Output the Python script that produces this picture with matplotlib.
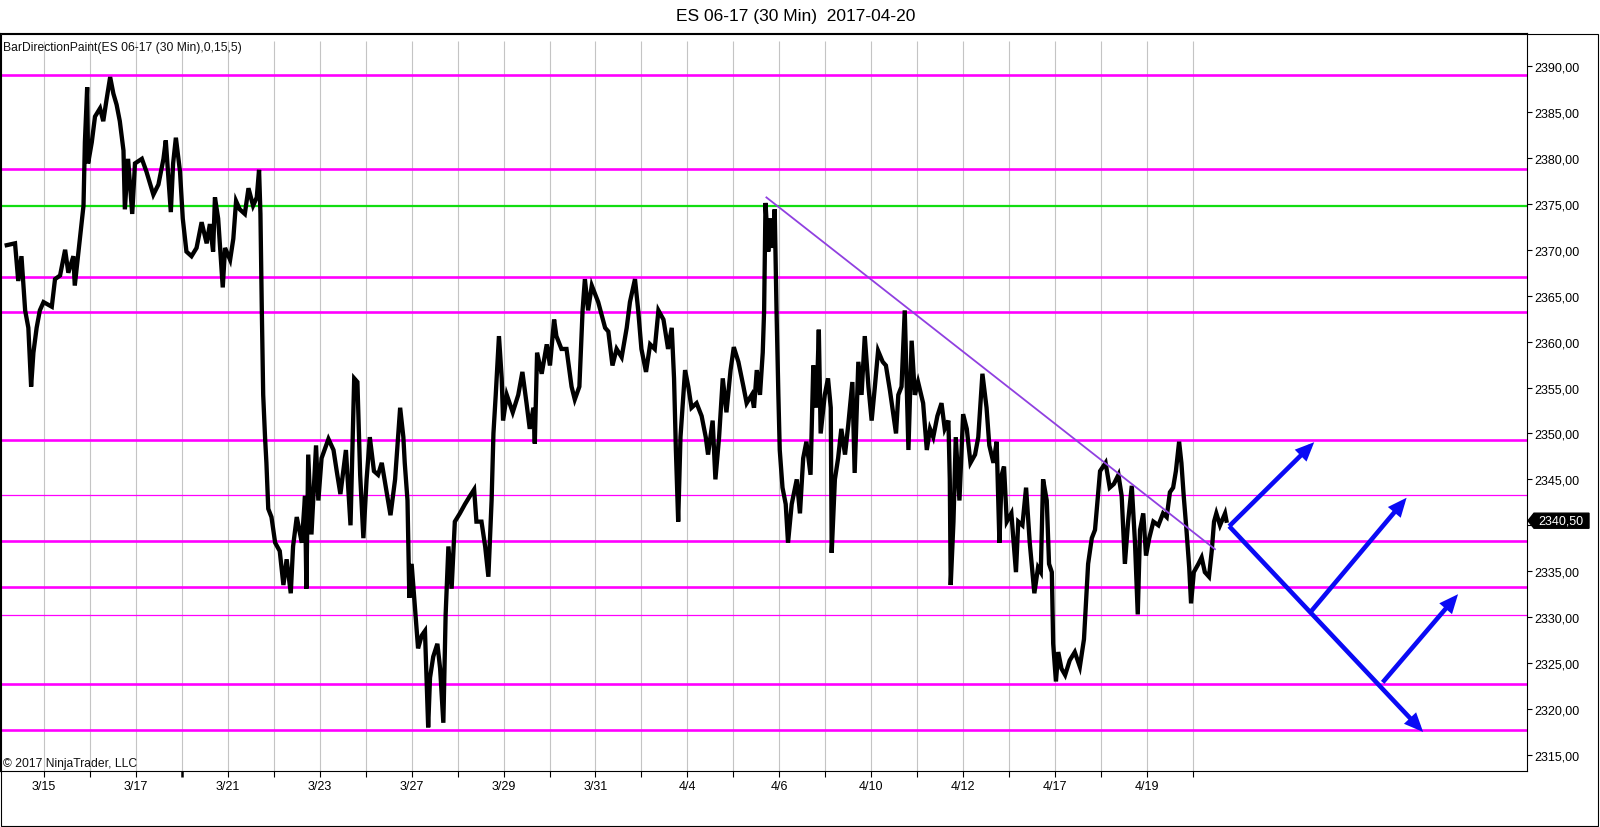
"""
ES 06-17 (30 Min) chart with support / resistance levels,
a falling trend line and scenario arrows.
"""
import numpy as np
import matplotlib
matplotlib.use("Agg")
import matplotlib.pyplot as plt
import matplotlib.ticker as mticker
import matplotlib.transforms as mtransforms
from matplotlib.patches import FancyArrowPatch, Rectangle, Polygon

plt.rcParams['font.family'] = ['Liberation Sans', 'DejaVu Sans']

# =========================================================
# DATA
# =========================================================
TITLE = "ES 06-17 (30 Min)  2017-04-20"
INDICATOR = "BarDirectionPaint(ES 06-17 (30 Min),0,15,5)"
COPYRIGHT = "\u00a9 2017 NinjaTrader, LLC"

session_dates = ["3/15", "3/16", "3/17", "3/20", "3/21", "3/22", "3/23",
                 "3/24", "3/27", "3/28", "3/29", "3/30", "3/31", "4/3",
                 "4/4", "4/5", "4/6", "4/7", "4/10", "4/11", "4/12",
                 "4/13", "4/17", "4/18", "4/19", "4/20"]

# price path (session index, price)
bar_day = [
    -0.81, -0.63, -0.56, -0.49, -0.41, -0.34, -0.28, -0.23, -0.16, -0.09,
    -0.01, 0.17, 0.24, 0.35, 0.46, 0.53, 0.64, 0.67, 0.78, 0.86,
    0.89, 0.94, 0.96, 1.04, 1.11, 1.22, 1.29, 1.36, 1.44, 1.51,
    1.58, 1.65, 1.73, 1.76, 1.83, 1.92, 1.98, 2.13, 2.23, 2.38,
    2.49, 2.60, 2.65, 2.71, 2.76, 2.81, 2.87, 2.96, 3.02, 3.10,
    3.21, 3.32, 3.43, 3.54, 3.61, 3.68, 3.72, 3.79, 3.89, 3.94,
    4.05, 4.12, 4.18, 4.26, 4.37, 4.45, 4.55, 4.63, 4.68, 4.71,
    4.74, 4.77, 4.81, 4.84, 4.88, 4.95, 5.03, 5.13, 5.21, 5.28,
    5.37, 5.42, 5.50, 5.61, 5.68,
    5.71, 5.75, 5.82, 5.92, 5.97, 6.04, 6.19, 6.30, 6.37, 6.45,
    6.57, 6.67, 6.75, 6.82, 6.88, 6.95, 7.02, 7.09, 7.18, 7.27,
    7.35, 7.44, 7.54, 7.64, 7.75, 7.82, 7.85, 7.91, 7.95, 8.00,
    8.07, 8.14, 8.22, 8.29, 8.36, 8.40, 8.47, 8.56, 8.62, 8.69,
    8.74, 8.80, 8.87, 8.94, 9.05, 9.16, 9.27, 9.36, 9.41, 9.52,
    9.60, 9.67, 9.74, 9.78, 9.83, 9.90, 9.96, 9.99, 10.07, 10.20,
    10.32, 10.41, 10.50, 10.57, 10.65, 10.68, 10.73, 10.83, 10.94, 11.01,
    11.10, 11.15, 11.26, 11.37, 11.48, 11.55, 11.65, 11.72, 11.77, 11.84,
    11.92, 11.99, 12.06,
    12.21, 12.28, 12.37, 12.46, 12.57, 12.68, 12.75, 12.86, 12.93, 13.00,
    13.10, 13.19, 13.29, 13.37, 13.48, 13.58, 13.66, 13.71, 13.75, 13.80,
    13.85, 13.95, 14.02, 14.09, 14.20, 14.31, 14.40, 14.45, 14.55, 14.61,
    14.69, 14.77, 14.85, 14.94, 15.01, 15.11, 15.22, 15.29, 15.40, 15.45,
    15.51, 15.58, 15.64, 15.67, 15.70, 15.76, 15.81, 15.85, 15.90, 15.94,
    15.98, 16.01, 16.07, 16.14, 16.19, 16.27, 16.38, 16.45, 16.52, 16.59,
    16.68, 16.74, 16.81, 16.86, 16.90, 16.99, 17.06, 17.12, 17.14, 17.21,
    17.28, 17.35, 17.43, 17.50, 17.59, 17.64, 17.72, 17.79, 17.86, 17.94,
    18.01, 18.08, 18.15, 18.25, 18.32, 18.41, 18.54, 18.59,
    18.66, 18.73, 18.81, 18.88, 18.95, 19.02, 19.13, 19.21, 19.28, 19.35,
    19.44, 19.53, 19.60, 19.68, 19.71, 19.73, 19.79, 19.84, 19.92, 20.00,
    20.08, 20.16, 20.26, 20.33, 20.42, 20.51, 20.57, 20.66, 20.73, 20.79,
    20.84, 20.89, 20.95, 21.05, 21.15, 21.20, 21.29, 21.37, 21.45, 21.55,
    21.63, 21.69, 21.74, 21.82, 21.87, 21.93, 21.96, 22.02, 22.07, 22.14,
    22.22, 22.32, 22.43, 22.54, 22.63, 22.67, 22.72, 22.80, 22.87, 22.94,
    22.98, 23.10, 23.19, 23.28, 23.38, 23.45, 23.52, 23.59, 23.67, 23.74,
    23.80, 23.85, 23.92, 23.98, 24.05, 24.14, 24.25, 24.35, 24.43, 24.50,
    24.57, 24.63, 24.70, 24.75, 24.80, 24.86, 24.92, 24.96, 25.02, 25.12,
    25.19, 25.26, 25.35, 25.41, 25.46, 25.51, 25.59, 25.70, 25.73,
]
bar_price = [
    2370.5, 2370.7, 2366.6, 2369.3, 2363.4, 2361.5, 2355.1, 2358.8, 2361.5, 2363.4,
    2364.3, 2363.8, 2366.8, 2367.2, 2370.0, 2367.5, 2369.3, 2366.1, 2371.2, 2374.8,
    2381.7, 2387.7, 2379.4, 2381.7, 2384.5, 2385.4, 2384.0, 2386.3, 2388.8, 2387.0,
    2385.8, 2384.0, 2380.8, 2374.4, 2379.9, 2373.9, 2379.4, 2379.9, 2378.5, 2376.0,
    2377.1, 2379.9, 2381.9, 2377.6, 2374.1, 2379.4, 2382.2, 2378.5, 2373.4, 2369.8,
    2369.3, 2370.2, 2373.0, 2370.7, 2372.8, 2369.8, 2375.7, 2373.4, 2365.9, 2370.2,
    2368.9, 2371.2, 2375.3, 2374.4, 2373.9, 2376.7, 2374.8, 2375.7, 2378.7, 2373.9,
    2363.4, 2354.2, 2349.6, 2346.8, 2341.8, 2340.9, 2338.1, 2337.2, 2333.5, 2336.3,
    2332.6, 2337.7, 2340.9, 2338.1, 2343.2,
    2333.1, 2347.7, 2339.0, 2348.7, 2342.7, 2347.3, 2349.4, 2348.2, 2345.9, 2343.4,
    2348.2, 2340.0, 2356.0, 2355.6, 2345.5, 2338.6, 2345.0, 2349.6, 2345.9, 2345.5,
    2346.8, 2344.1, 2341.1, 2345.0, 2352.8, 2349.6, 2346.8, 2342.7, 2332.1, 2335.8,
    2331.2, 2326.6, 2328.0, 2328.5, 2318.0, 2323.4, 2325.7, 2327.1, 2324.4, 2318.5,
    2330.3, 2337.7, 2333.1, 2340.4, 2341.3, 2342.3, 2343.2, 2343.9, 2340.4, 2340.4,
    2337.7, 2334.4, 2342.7, 2350.0, 2354.2, 2360.6, 2356.0, 2351.4, 2354.2, 2352.3,
    2354.2, 2356.7, 2353.3, 2350.5, 2352.8, 2348.9, 2358.8, 2356.5, 2359.7, 2357.4,
    2362.4, 2360.6, 2359.2, 2359.2, 2355.1, 2353.7, 2355.1, 2363.4, 2366.8, 2363.4,
    2366.1, 2365.2, 2364.3,
    2361.5, 2361.1, 2357.4, 2359.2, 2358.3, 2361.5, 2364.3, 2366.8, 2363.4, 2359.2,
    2356.7, 2359.7, 2359.2, 2363.4, 2362.4, 2359.2, 2361.5, 2356.0, 2348.2, 2340.4,
    2349.6, 2356.9, 2355.1, 2352.8, 2353.3, 2351.9, 2349.6, 2347.7, 2351.4, 2345.0,
    2349.6, 2356.0, 2352.3, 2356.9, 2359.4, 2357.8, 2355.1, 2353.3, 2354.2, 2352.8,
    2356.9, 2354.2, 2358.8, 2363.4, 2375.1, 2369.8, 2373.4, 2370.2, 2374.4, 2363.4,
    2354.2, 2348.2, 2344.1, 2342.3, 2338.1, 2342.3, 2345.0, 2341.3, 2347.3, 2349.1,
    2345.5, 2357.4, 2352.8, 2361.3, 2350.0, 2354.2, 2356.0, 2352.8, 2337.0, 2345.0,
    2347.3, 2350.5, 2347.7, 2350.9, 2355.6, 2345.7, 2357.8, 2354.2, 2360.6, 2355.1,
    2351.4, 2355.1, 2359.0, 2357.8, 2357.4, 2354.6, 2350.0, 2354.2,
    2355.1, 2363.4, 2348.2, 2360.1, 2354.2, 2355.6, 2353.3, 2348.2, 2350.5, 2349.6,
    2351.9, 2353.3, 2350.5, 2351.4, 2345.0, 2333.5, 2340.4, 2349.6, 2342.7, 2352.1,
    2350.5, 2346.8, 2347.7, 2349.6, 2356.5, 2352.8, 2348.7, 2346.8, 2349.1, 2338.1,
    2345.5, 2346.4, 2340.4, 2341.3, 2334.9, 2340.4, 2340.0, 2344.1, 2338.1, 2332.6,
    2335.4, 2334.9, 2345.0, 2342.7, 2335.8, 2334.9, 2327.1, 2323.0, 2326.2, 2324.4,
    2323.7, 2325.3, 2326.2, 2324.6, 2327.6, 2331.2, 2335.8, 2338.6, 2339.5, 2343.6,
    2345.9, 2346.8, 2344.1, 2344.5, 2345.5, 2343.2, 2335.8, 2340.4, 2344.3, 2338.1,
    2330.3, 2339.5, 2341.3, 2336.7, 2338.6, 2340.4, 2340.0, 2341.3, 2340.9, 2343.6,
    2344.1, 2345.9, 2349.1, 2346.8, 2343.2, 2339.5, 2335.4, 2331.5, 2334.9, 2335.8,
    2336.5, 2334.9, 2334.4, 2337.2, 2340.4, 2341.3, 2340.0, 2341.3, 2340.5,
]

major_levels = [2389.0, 2378.75, 2367.0, 2363.25, 2349.25, 2338.25,
                2333.25, 2322.75, 2317.75]
minor_levels = [2343.25, 2330.25]
key_level = 2374.75
last_price = 2340.50

trend_day = [15.72, 25.48]
trend_price = [2375.7, 2337.4]

# scenario arrows
arrow_from_day = [25.79, 25.79, 27.55, 29.13]
arrow_from_price = [2339.9, 2339.9, 2330.5, 2322.9]
arrow_to_day = [27.64, 30.01, 29.65, 30.77]
arrow_to_price = [2349.05, 2317.5, 2343.0, 2332.5]

# =========================================================
# FIGURE
# =========================================================
W, H = 1600, 828
fig = plt.figure(figsize=(W / 100, H / 100), dpi=100, facecolor="white")
ax = fig.add_axes([0, (H - 772) / H, 1527 / W, (772 - 34) / H])

YMIN, YMAX = 2313.25, 2393.6
XMIN, XMAX = -0.957, 32.27
ax.set_xlim(XMIN, XMAX)
ax.set_ylim(YMIN, YMAX)

# vertical session grid
days = np.arange(len(session_dates))
ax.vlines(days, YMIN, 2392.75, colors="#c4c4c4", linewidth=0.8, zorder=1)

# horizontal levels
for lv in major_levels:
    ax.axhline(lv, color="#ff00ff", linewidth=1.9, zorder=2)
for lv in minor_levels:
    ax.axhline(lv, color="#ff00ff", linewidth=0.9, zorder=2)
ax.axhline(key_level, color="#11dd11", linewidth=1.6, zorder=2)

# price
ax.plot(bar_day, bar_price, color="black", linewidth=3.1,
        solid_joinstyle="miter", zorder=4)

# trend line
ax.plot(trend_day, trend_price, color="#9040e0", linewidth=1.3, zorder=5)

# arrows
for x0, y0, x1, y1 in zip(arrow_from_day, arrow_from_price,
                          arrow_to_day, arrow_to_price):
    arr = FancyArrowPatch(
        (x0, y0), (x1, y1),
        arrowstyle="-|>,head_length=0.8,head_width=0.35",
        mutation_scale=10, linewidth=3.3, color="#0a0af5",
        shrinkA=0, shrinkB=0, joinstyle="miter", capstyle="butt",
        zorder=6
    )
    ax.add_patch(arr)

# axes styling
for side in ["top", "left", "right", "bottom"]:
    ax.spines[side].set_linewidth(0.8)
    ax.spines[side].set_color("black")

ax.yaxis.tick_right()
ax.set_yticks(np.arange(2315, 2391, 5))


def price_fmt(v, _):
    # the last-price marker covers the 2340 label
    if abs(v - 2340) < 0.01:
        return ""
    return f"{v:.2f}".replace(".", ",")


ax.yaxis.set_major_formatter(mticker.FuncFormatter(price_fmt))
ax.tick_params(axis="y", direction="out", length=3.8, width=0.8,
               pad=1.5, labelsize=9, colors="black")

ax.set_xticks(days)
ax.set_xticklabels([d if i % 2 == 0 else "" for i, d in
                    enumerate(session_dates)])
ax.tick_params(axis="x", direction="out", length=4.3, width=0.8,
               pad=2.5, labelsize=9, colors="black")
ax.xaxis.get_major_ticks()[3].tick1line.set_markeredgewidth(1.8)

# texts
ax.text(3 / 1527, 1 - 13.5 / 738, INDICATOR, transform=ax.transAxes,
        ha="left", va="center", fontsize=8.7, color="#111111", zorder=7)
ax.text(3 / 1527, 8 / 738, COPYRIGHT, transform=ax.transAxes,
        ha="left", va="center", fontsize=8.7, color="#111111", zorder=7)
fig.text(796 / W, 1 - 16 / H, TITLE, ha="center", va="center",
         fontsize=12.5, color="black")

# last price marker on the axis
blend = mtransforms.blended_transform_factory(fig.transFigure, ax.transData)
hh = 0.82
marker = Polygon(
    [(1528 / W, last_price), (1534 / W, last_price + hh),
     (1589 / W, last_price + hh), (1589 / W, last_price - hh),
     (1534 / W, last_price - hh)],
    closed=True, facecolor="black", edgecolor="black",
    transform=blend, clip_on=False, zorder=8
)
fig.add_artist(marker)
price_label = fig.text(1561 / W, last_price,
                       f"{last_price:.2f}".replace(".", ","),
                       transform=blend, ha="center", va="center",
                       fontsize=9, color="white", zorder=9)

# outer frame
fig.add_artist(Rectangle((0.5 / W, 1.5 / H), 1597.5 / W, (827 - 34 - 1) / H,
                         transform=fig.transFigure, fill=False,
                         edgecolor="black", linewidth=0.8))

fig.savefig("out.png", dpi=100, facecolor="white")
plt.close("all")
